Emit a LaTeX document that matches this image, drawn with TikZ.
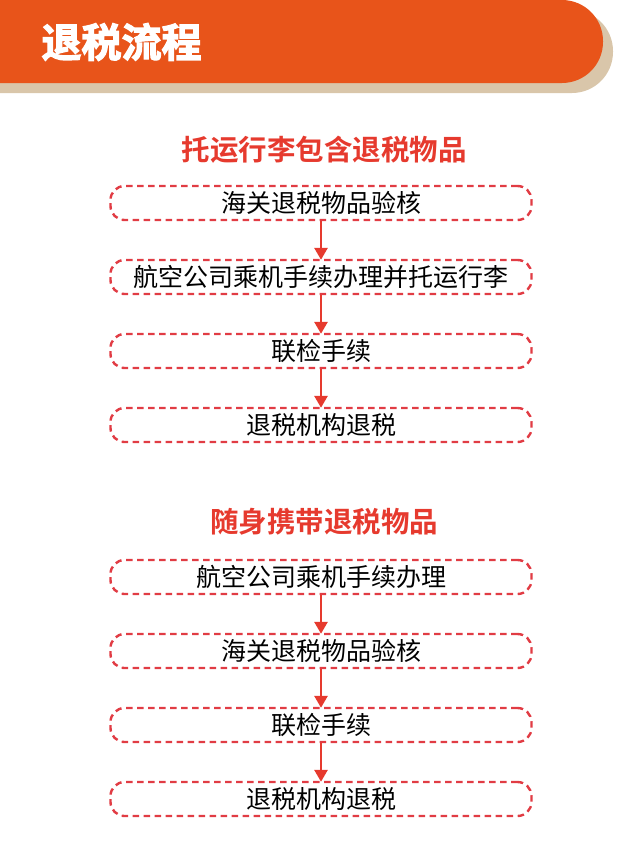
\documentclass[tikz,border=0pt]{standalone}
\usepackage{fontspec}
\setmainfont{Noto Sans CJK SC}[BoldFont={* Bold}]
\newfontfamily\cuti{Noto Sans CJK SC Bold}[FakeBold=3]
\usetikzlibrary{positioning,arrows.meta}
\definecolor{chengse}{HTML}{E8541A}
\definecolor{yingse}{HTML}{D9C6AA}
\definecolor{hongse}{HTML}{E63A2E}
\definecolor{xuxian}{HTML}{E13C44}
\tikzset{
  kuang/.style   = {draw=xuxian, dashed, dash pattern=on 6.5pt off 4.5pt, line width=2.4pt,
                    rounded corners=14pt, minimum width=421pt, minimum height=34pt,
                    inner sep=0pt, font=\fontsize{25}{27}\selectfont},
  biaoti/.style  = {text=hongse, font=\fontsize{28.5}{31}\selectfont\bfseries},
  jiantou/.style = {-{Triangle[length=12pt,width=13pt]}, draw=hongse, line width=2.8pt,
                    shorten >=-1pt}
}
\begin{document}
\begin{tikzpicture}[x=1pt, y=-1pt, node distance=37.6pt]
    \useasboundingbox (0,0) rectangle (640,841);
    % header bar
    \fill[yingse, rounded corners=41pt] (-60,10) rectangle (613,93);
    \fill[chengse, rounded corners=41pt] (-60,0) rectangle (603,83);
    \node[text=white, font=\fontsize{40}{44}\selectfont\cuti, anchor=west] (kaitou) at (38,42) {退税流程};

    % group 1
    \node[biaoti] (t1) at (324,150) {托运行李包含退税物品};
    \node[kuang] (a1) at (321,203) {海关退税物品验核};
    \node[kuang, below=of a1] (a2) {航空公司乘机手续办理并托运行李};
    \node[kuang, below=of a2] (a3) {联检手续};
    \node[kuang, below=of a3] (a4) {退税机构退税};
    \draw[jiantou] (a1) -- (a2);
    \draw[jiantou] (a2) -- (a3);
    \draw[jiantou] (a3) -- (a4);

    % group 2
    \node[biaoti] (t2) at (324,522) {随身携带退税物品};
    \node[kuang] (b1) at (321,577) {航空公司乘机手续办理};
    \node[kuang, below=of b1] (b2) {海关退税物品验核};
    \node[kuang, below=of b2] (b3) {联检手续};
    \node[kuang, below=of b3] (b4) {退税机构退税};
    \draw[jiantou] (b1) -- (b2);
    \draw[jiantou] (b2) -- (b3);
    \draw[jiantou] (b3) -- (b4);
\end{tikzpicture}
\end{document}
